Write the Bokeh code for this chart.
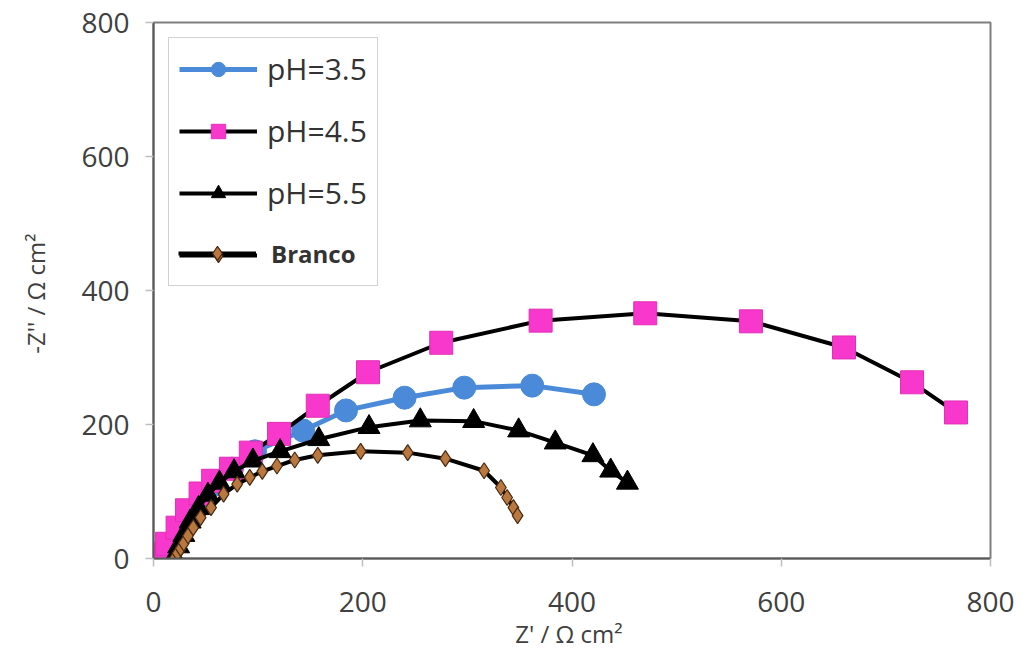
from bokeh.plotting import figure
from bokeh.models import Range1d, FixedTicker, Legend, LegendItem
from bokeh.embed import file_html
from bokeh.resources import INLINE

# pH = 3.5 (blue circles)
x_ph35 = [12, 18, 25, 34, 45, 58, 75, 97, 143, 184, 240, 297, 362, 421]
y_ph35 = [6, 22, 42, 64, 88, 110, 134, 160, 191, 221, 240, 255, 258, 245]

# pH = 4.5 (pink squares)
x_ph45 = [9, 13, 23, 32, 45, 57, 74, 93, 120, 157, 205, 275, 370, 470, 571, 660, 725, 767]
y_ph45 = [7, 22, 46, 72, 97, 116, 134, 158, 186, 228, 278, 322, 355, 366, 354, 315, 263, 218]

# pH = 5.5 (black triangles)
x_ph55 = [20, 24, 29, 35, 43, 52, 63, 77, 95, 121, 158, 206, 255, 306, 349, 384, 420, 437, 453]
y_ph55 = [2, 18, 35, 55, 75, 95, 113, 130, 146, 160, 178, 196, 206, 205, 191, 173, 154, 131, 113]

# Branco (brown diamonds)
x_br = [20, 23, 26, 29, 33, 38, 45, 55, 67, 80, 92, 104, 118, 135, 157, 198, 243, 279, 316, 332, 338, 344, 348]
y_br = [0, 8, 15, 23, 34, 46, 61, 76, 96, 111, 121, 130, 138, 147, 154, 160, 158, 149, 131, 106, 91, 76, 64]

labels = ["pH=3.5", "pH=4.5", "pH=5.5", "Branco"]
ticks = [0, 200, 400, 600, 800]

FONT = "Open Sans"
TXT = "#404040"

p = figure(width=1027, height=659, output_backend="svg", toolbar_location=None,
           x_range=Range1d(0, 800), y_range=Range1d(0, 800),
           min_border_left=153, min_border_right=37, min_border_top=22,
           min_border_bottom=101)
p.background_fill_color = "white"
p.border_fill_color = "white"
p.outline_line_color = "#7f7f7f"
p.outline_line_width = 2
p.xgrid.visible = False
p.ygrid.visible = False

for ax in (p.xaxis[0], p.yaxis[0]):
    ax.ticker = FixedTicker(ticks=ticks)
    ax.axis_line_color = "#595959"
    ax.axis_line_width = 2
    ax.major_tick_line_color = "#bfbfbf"
    ax.major_tick_line_width = 1.5
    ax.major_tick_out = 8
    ax.major_tick_in = 0
    ax.minor_tick_line_color = None
    ax.major_label_text_font = FONT
    ax.major_label_text_font_size = "28px"
    ax.major_label_text_color = TXT
    ax.axis_label_text_font = FONT
    ax.axis_label_text_font_size = "24px"
    ax.axis_label_text_font_style = "normal"
    ax.axis_label_text_color = TXT

p.xaxis.axis_label = "Z' /  \u03a9 cm\u00b2"
p.yaxis.axis_label = "-Z'' /  \u03a9 cm\u00b2"
p.xaxis.major_label_standoff = 25
p.yaxis.major_label_standoff = 16
p.xaxis.axis_label_standoff = 2
p.yaxis.axis_label_standoff = 26

# pH 3.5
l35 = p.line(x_ph35, y_ph35, line_color="#4a8ad8", line_width=5)
s35 = p.scatter(x_ph35, y_ph35, marker="circle", size=23, fill_color="#4a8ad8",
                line_color="#4a8ad8")
# pH 4.5
l45 = p.line(x_ph45, y_ph45, line_color="black", line_width=4)
s45 = p.scatter(x_ph45, y_ph45, marker="square", size=23, fill_color="#f838cc",
                line_color="#e030b4", line_width=1)
# pH 5.5
l55 = p.line(x_ph55, y_ph55, line_color="black", line_width=4)
s55 = p.scatter(x_ph55, y_ph55, marker="triangle", size=22, fill_color="black",
                line_color="black")
# Branco
lbr = p.line(x_br, y_br, line_color="black", line_width=4)
sbr = p.scatter(x_br, y_br, marker="diamond", size=16, fill_color="#b87840",
                line_color="#4a2a10", line_width=1.2)

legA = Legend(items=[
    LegendItem(label=labels[0], renderers=[l35, s35]),
    LegendItem(label=labels[1], renderers=[l45, s45]),
    LegendItem(label=labels[2], renderers=[l55, s55]),
    LegendItem(label="\u00a0", renderers=[lbr, sbr]),
])
legA.location = "top_left"
legA.margin = 15
legA.padding = 10
legA.spacing = 21
legA.glyph_width = 78
legA.glyph_height = 36
legA.label_height = 36
legA.label_standoff = 10
legA.label_text_font = FONT
legA.label_text_font_size = "30px"
legA.label_text_color = "#333333"
legA.border_line_color = "#a6a6a6"
legA.border_line_width = 1.5
legA.background_fill_alpha = 1.0
p.add_layout(legA)

legB = Legend(items=[LegendItem(label=labels[3], renderers=[lbr, sbr])])
legB.location = (25, 287)
legB.margin = 0
legB.padding = 0
legB.glyph_width = 78
legB.glyph_height = 36
legB.label_height = 36
legB.label_standoff = 15
legB.label_text_font = FONT
legB.label_text_font_size = "24px"
legB.label_text_font_style = "bold"
legB.label_text_color = "#333333"
legB.border_line_color = None
legB.background_fill_alpha = 0.0
p.add_layout(legB)

open("out.html", "w").write(file_html(p, INLINE))
